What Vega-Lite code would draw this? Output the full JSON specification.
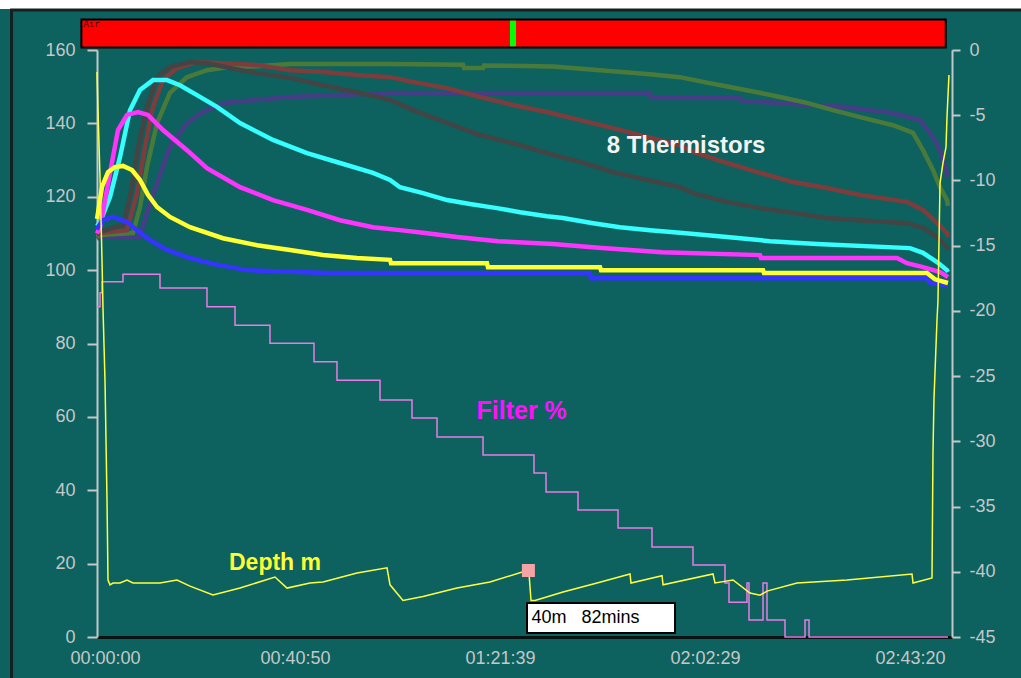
{
  "$schema": "https://vega.github.io/schema/vega-lite/v6.json",
  "width": 855,
  "height": 587,
  "autosize": {"type": "none"},
  "padding": {"left": 97, "top": 50, "right": 69, "bottom": 41},
  "background": "#0d615e",
  "config": {"view": {"stroke": null}, "font": "Liberation Sans"},
  "datasets": {
    "therm": [
      {"s":"T1","t":0,"v":108.5},{"s":"T1","t":0.58,"v":109.0},{"s":"T1","t":8.25,"v":109.0},{"s":"T1","t":9.60,"v":115.6},{"s":"T1","t":11.52,"v":123.7},{"s":"T1","t":14.01,"v":133.6},{"s":"T1","t":17.27,"v":140.1},{"s":"T1","t":20.34,"v":143.1},{"s":"T1","t":24.18,"v":145.5},{"s":"T1","t":30.71,"v":146.4},{"s":"T1","t":37.04,"v":147.2},{"s":"T1","t":56.24,"v":148.3},{"s":"T1","t":106.14,"v":148.3},{"s":"T1","t":106.33,"v":146.9},{"s":"T1","t":123.41,"v":146.9},{"s":"T1","t":123.99,"v":146.1},{"s":"T1","t":133.58,"v":145.3},{"s":"T1","t":143.18,"v":144.5},{"s":"T1","t":152.78,"v":142.8},{"s":"T1","t":157.96,"v":140.9},{"s":"T1","t":160.45,"v":136.3},{"s":"T1","t":161.80,"v":132.7},{"s":"T1","t":162.76,"v":128.1},{"s":"T1","t":163.33,"v":125.4},
      {"s":"T2","t":0,"v":109.0},{"s":"T2","t":0.58,"v":109.6},{"s":"T2","t":6.91,"v":110.1},{"s":"T2","t":8.25,"v":117.2},{"s":"T2","t":9.60,"v":128.1},{"s":"T2","t":11.52,"v":140.1},{"s":"T2","t":14.01,"v":148.3},{"s":"T2","t":17.27,"v":152.6},{"s":"T2","t":21.11,"v":154.5},{"s":"T2","t":25.53,"v":155.4},{"s":"T2","t":30.71,"v":155.6},{"s":"T2","t":37.04,"v":156.2},{"s":"T2","t":56.24,"v":156.2},{"s":"T2","t":70.25,"v":156.0},{"s":"T2","t":70.44,"v":155.1},{"s":"T2","t":74.09,"v":155.1},{"s":"T2","t":74.28,"v":155.8},{"s":"T2","t":87.52,"v":155.5},{"s":"T2","t":96.55,"v":154.5},{"s":"T2","t":106.14,"v":153.4},{"s":"T2","t":111.89,"v":152.6},{"s":"T2","t":116.31,"v":151.3},{"s":"T2","t":121.49,"v":149.9},{"s":"T2","t":126.67,"v":148.5},{"s":"T2","t":131.09,"v":147.2},{"s":"T2","t":136.27,"v":145.6},{"s":"T2","t":141.26,"v":143.6},{"s":"T2","t":146.44,"v":141.7},{"s":"T2","t":152.78,"v":139.5},{"s":"T2","t":156.62,"v":137.4},{"s":"T2","t":158.53,"v":132.7},{"s":"T2","t":160.45,"v":127.3},{"s":"T2","t":161.80,"v":122.6},{"s":"T2","t":163.14,"v":119.1},{"s":"T2","t":163.33,"v":117.5},
      {"s":"T3","t":0,"v":109.5},{"s":"T3","t":0.58,"v":110.1},{"s":"T3","t":5.76,"v":110.9},{"s":"T3","t":7.68,"v":121.0},{"s":"T3","t":9.21,"v":133.6},{"s":"T3","t":10.75,"v":144.5},{"s":"T3","t":12.67,"v":151.8},{"s":"T3","t":15.35,"v":155.1},{"s":"T3","t":19.19,"v":156.7},{"s":"T3","t":24.18,"v":156.4},{"s":"T3","t":30.71,"v":155.9},{"s":"T3","t":37.04,"v":154.5},{"s":"T3","t":43.38,"v":154.0},{"s":"T3","t":49.90,"v":153.2},{"s":"T3","t":56.24,"v":152.6},{"s":"T3","t":60.65,"v":151.3},{"s":"T3","t":67.18,"v":149.6},{"s":"T3","t":73.51,"v":147.2},{"s":"T3","t":79.84,"v":145.0},{"s":"T3","t":86.37,"v":143.1},{"s":"T3","t":92.70,"v":140.9},{"s":"T3","t":99.04,"v":138.7},{"s":"T3","t":105.56,"v":136.3},{"s":"T3","t":111.89,"v":134.0},{"s":"T3","t":114.39,"v":132.2},{"s":"T3","t":120.92,"v":129.2},{"s":"T3","t":127.25,"v":126.5},{"s":"T3","t":133.58,"v":124.0},{"s":"T3","t":140.11,"v":122.4},{"s":"T3","t":146.44,"v":120.5},{"s":"T3","t":155.46,"v":118.6},{"s":"T3","t":158.53,"v":116.4},{"s":"T3","t":161.22,"v":112.8},{"s":"T3","t":163.14,"v":110.1},{"s":"T3","t":163.33,"v":109.0},
      {"s":"T4","t":0,"v":110.0},{"s":"T4","t":0.58,"v":110.4},{"s":"T4","t":4.99,"v":112.3},{"s":"T4","t":6.33,"v":119.9},{"s":"T4","t":7.68,"v":131.9},{"s":"T4","t":9.60,"v":144.5},{"s":"T4","t":11.52,"v":152.6},{"s":"T4","t":14.01,"v":155.4},{"s":"T4","t":17.85,"v":156.7},{"s":"T4","t":21.11,"v":156.4},{"s":"T4","t":25.53,"v":155.1},{"s":"T4","t":30.71,"v":153.7},{"s":"T4","t":37.04,"v":152.4},{"s":"T4","t":43.38,"v":150.4},{"s":"T4","t":49.90,"v":148.5},{"s":"T4","t":56.24,"v":146.4},{"s":"T4","t":60.65,"v":143.6},{"s":"T4","t":67.18,"v":140.1},{"s":"T4","t":73.51,"v":136.8},{"s":"T4","t":79.84,"v":134.6},{"s":"T4","t":86.37,"v":131.9},{"s":"T4","t":92.70,"v":129.5},{"s":"T4","t":99.04,"v":126.7},{"s":"T4","t":105.56,"v":124.6},{"s":"T4","t":111.89,"v":122.6},{"s":"T4","t":114.39,"v":121.0},{"s":"T4","t":120.92,"v":118.6},{"s":"T4","t":127.25,"v":116.9},{"s":"T4","t":133.58,"v":115.6},{"s":"T4","t":140.11,"v":114.2},{"s":"T4","t":146.44,"v":113.6},{"s":"T4","t":155.46,"v":112.8},{"s":"T4","t":158.53,"v":111.5},{"s":"T4","t":161.22,"v":109.0},{"s":"T4","t":163.14,"v":106.3},{"s":"T4","t":163.33,"v":105.5},
      {"s":"T5","t":0,"v":112.0},{"s":"T5","t":0.58,"v":113.1},{"s":"T5","t":2.50,"v":119.9},{"s":"T5","t":4.41,"v":130.8},{"s":"T5","t":6.33,"v":143.6},{"s":"T5","t":8.25,"v":149.1},{"s":"T5","t":10.75,"v":151.8},{"s":"T5","t":13.43,"v":151.8},{"s":"T5","t":15.93,"v":150.4},{"s":"T5","t":19.19,"v":147.7},{"s":"T5","t":23.03,"v":144.5},{"s":"T5","t":27.45,"v":140.1},{"s":"T5","t":33.78,"v":135.5},{"s":"T5","t":40.31,"v":131.9},{"s":"T5","t":46.64,"v":129.2},{"s":"T5","t":52.97,"v":126.5},{"s":"T5","t":56.24,"v":124.6},{"s":"T5","t":58.15,"v":122.6},{"s":"T5","t":62.57,"v":121.0},{"s":"T5","t":67.18,"v":119.1},{"s":"T5","t":71.59,"v":118.0},{"s":"T5","t":76.77,"v":116.9},{"s":"T5","t":81.19,"v":115.8},{"s":"T5","t":86.37,"v":114.7},{"s":"T5","t":89.44,"v":114.2},{"s":"T5","t":95.20,"v":112.8},{"s":"T5","t":100.38,"v":111.7},{"s":"T5","t":106.14,"v":110.9},{"s":"T5","t":112.47,"v":110.1},{"s":"T5","t":120.92,"v":109.0},{"s":"T5","t":129.17,"v":107.9},{"s":"T5","t":138.19,"v":107.1},{"s":"T5","t":156.04,"v":106.0},{"s":"T5","t":158.53,"v":104.7},{"s":"T5","t":161.22,"v":102.2},{"s":"T5","t":163.14,"v":100.0},{"s":"T5","t":163.33,"v":99.5},
      {"s":"T6","t":0,"v":110.0},{"s":"T6","t":0.58,"v":111.7},{"s":"T6","t":2.50,"v":126.5},{"s":"T6","t":4.03,"v":138.2},{"s":"T6","t":5.76,"v":142.3},{"s":"T6","t":7.87,"v":143.1},{"s":"T6","t":9.79,"v":142.3},{"s":"T6","t":12.67,"v":138.2},{"s":"T6","t":17.27,"v":132.7},{"s":"T6","t":21.11,"v":127.8},{"s":"T6","t":27.45,"v":122.6},{"s":"T6","t":33.78,"v":119.1},{"s":"T6","t":40.31,"v":116.4},{"s":"T6","t":46.64,"v":113.6},{"s":"T6","t":52.97,"v":111.7},{"s":"T6","t":58.15,"v":110.9},{"s":"T6","t":62.95,"v":110.1},{"s":"T6","t":69.09,"v":109.0},{"s":"T6","t":76.96,"v":107.9},{"s":"T6","t":87.52,"v":107.1},{"s":"T6","t":96.92,"v":106.0},{"s":"T6","t":108.45,"v":104.9},{"s":"T6","t":127.25,"v":104.1},{"s":"T6","t":127.44,"v":103.3},{"s":"T6","t":153.54,"v":103.3},{"s":"T6","t":155.46,"v":101.9},{"s":"T6","t":158.53,"v":100.8},{"s":"T6","t":161.80,"v":99.5},{"s":"T6","t":163.33,"v":98.1},
      {"s":"T7","t":0,"v":111.0},{"s":"T7","t":0.19,"v":111.7},{"s":"T7","t":1.15,"v":113.6},{"s":"T7","t":3.07,"v":114.5},{"s":"T7","t":5.76,"v":113.1},{"s":"T7","t":7.68,"v":110.9},{"s":"T7","t":10.17,"v":108.2},{"s":"T7","t":13.43,"v":105.5},{"s":"T7","t":17.85,"v":103.3},{"s":"T7","t":22.26,"v":101.7},{"s":"T7","t":28.79,"v":100.0},{"s":"T7","t":44.14,"v":99.2},{"s":"T7","t":94.62,"v":99.2},{"s":"T7","t":94.81,"v":97.8},{"s":"T7","t":159.30,"v":97.8},{"s":"T7","t":159.88,"v":96.5},{"s":"T7","t":163.33,"v":95.9},
      {"s":"T8","t":0,"v":114.0},{"s":"T8","t":0.19,"v":115.6},{"s":"T8","t":0.96,"v":122.7},{"s":"T8","t":2.11,"v":126.7},{"s":"T8","t":3.45,"v":128.1},{"s":"T8","t":4.99,"v":128.4},{"s":"T8","t":6.72,"v":127.3},{"s":"T8","t":8.25,"v":124.6},{"s":"T8","t":9.79,"v":120.5},{"s":"T8","t":11.52,"v":117.2},{"s":"T8","t":14.01,"v":114.5},{"s":"T8","t":17.85,"v":111.7},{"s":"T8","t":24.18,"v":108.7},{"s":"T8","t":30.71,"v":106.8},{"s":"T8","t":37.04,"v":105.5},{"s":"T8","t":43.38,"v":104.1},{"s":"T8","t":49.90,"v":103.3},{"s":"T8","t":56.24,"v":102.8},{"s":"T8","t":56.43,"v":101.9},{"s":"T8","t":74.85,"v":101.9},{"s":"T8","t":75.04,"v":100.8},{"s":"T8","t":96.55,"v":100.8},{"s":"T8","t":96.73,"v":100.0},{"s":"T8","t":127.83,"v":100.0},{"s":"T8","t":128.02,"v":99.2},{"s":"T8","t":159.30,"v":99.2},{"s":"T8","t":160.84,"v":97.5},{"s":"T8","t":163.33,"v":96.5}
    ],
    "filter": [
      {"t":0,"pct":90.0},{"t":0.58,"pct":93.8},{"t":0.96,"pct":96.8},{"t":4.99,"pct":98.9},{"t":12.09,"pct":95.1},{"t":21.11,"pct":90.0},{"t":26.49,"pct":85.0},{"t":33.20,"pct":80.1},{"t":41.65,"pct":75.0},{"t":46.06,"pct":70.0},{"t":54.32,"pct":64.6},{"t":60.46,"pct":59.7},{"t":65.26,"pct":54.5},{"t":74.09,"pct":49.6},{"t":83.87,"pct":44.7},{"t":86.18,"pct":39.5},{"t":92.32,"pct":34.6},{"t":100.0,"pct":29.7},{"t":106.52,"pct":24.5},{"t":114.39,"pct":19.6},{"t":120.53,"pct":14.7},{"t":121.30,"pct":9.5},{"t":124.75,"pct":14.7},{"t":125.14,"pct":4.6},{"t":127.83,"pct":14.7},{"t":128.59,"pct":4.6},{"t":132.05,"pct":0},{"t":135.89,"pct":4.6},{"t":136.66,"pct":0},{"t":163.33,"pct":0}
    ],
    "depth": [
      {"t":0,"d":-1.69},{"t":0.19,"d":-4.6},{"t":0.58,"d":-9.81},{"t":0.96,"d":-16.1},{"t":1.15,"d":-19.78},{"t":1.54,"d":-25.45},{"t":1.92,"d":-34.5},{"t":2.11,"d":-40.63},{"t":2.50,"d":-41.0},{"t":3.07,"d":-40.86},{"t":4.41,"d":-40.86},{"t":5.76,"d":-40.63},{"t":6.91,"d":-40.86},{"t":12.09,"d":-40.86},{"t":15.35,"d":-40.63},{"t":17.85,"d":-41.1},{"t":22.26,"d":-41.78},{"t":27.45,"d":-41.25},{"t":34.16,"d":-40.4},{"t":36.47,"d":-41.25},{"t":40.88,"d":-40.86},{"t":43.38,"d":-40.79},{"t":49.90,"d":-40.1},{"t":55.66,"d":-39.7},{"t":56.24,"d":-41.0},{"t":58.73,"d":-42.2},{"t":62.57,"d":-41.9},{"t":69.09,"d":-41.25},{"t":75.43,"d":-40.79},{"t":81.76,"d":-40.0},{"t":82.91,"d":-40.1},{"t":83.30,"d":-42.2},{"t":84.07,"d":-42.2},{"t":89.44,"d":-41.55},{"t":95.97,"d":-40.86},{"t":102.30,"d":-40.17},{"t":102.49,"d":-40.86},{"t":108.45,"d":-40.3},{"t":108.64,"d":-41.0},{"t":118.23,"d":-40.17},{"t":118.61,"d":-40.86},{"t":122.07,"d":-40.63},{"t":125.33,"d":-41.63},{"t":127.25,"d":-41.8},{"t":128.59,"d":-41.48},{"t":134.35,"d":-40.86},{"t":143.95,"d":-40.63},{"t":156.42,"d":-40.17},{"t":156.62,"d":-40.86},{"t":160.26,"d":-40.48},{"t":160.45,"d":-30.9},{"t":160.64,"d":-26.8},{"t":161.22,"d":-20.7},{"t":161.41,"d":-19.2},{"t":161.80,"d":-10.2},{"t":162.37,"d":-8.66},{"t":162.95,"d":-7.44},{"t":163.14,"d":-5.14},{"t":163.52,"d":-1.92}
    ]
  },
  "layer": [
    {
      "layer": [
        {
          "data": {"values": [{}]},
          "mark": {"type": "rect", "fill": "#ffffff"},
          "encoding": {
            "x": {"datum": -25, "type": "quantitative", "scale": {"domain": [0, 164.1], "nice": false, "zero": false}},
            "x2": {"datum": 190},
            "y": {"datum": 171.2, "type": "quantitative", "scale": {"domain": [0, 160], "nice": false, "zero": false}},
            "y2": {"datum": 185}
          }
        },
        {
          "data": {"values": [{}]},
          "mark": {"type": "rect", "fill": null, "stroke": "#142020", "strokeWidth": 3},
          "encoding": {
            "x": {"datum": -16.4, "type": "quantitative", "scale": {"domain": [0, 164.1], "nice": false, "zero": false}},
            "x2": {"datum": 200},
            "y": {"datum": -30, "type": "quantitative", "scale": {"domain": [0, 160], "nice": false, "zero": false}},
            "y2": {"datum": 170.9}
          }
        },
        {
          "data": {"values": [{}]},
          "mark": {"type": "rect", "fill": "#ff0000", "stroke": "#000000", "strokeWidth": 2},
          "encoding": {
            "x": {"datum": -3.0, "type": "quantitative", "scale": {"domain": [0, 164.1], "nice": false, "zero": false}},
            "x2": {"datum": 162.9},
            "y": {"datum": 160.7, "type": "quantitative", "scale": {"domain": [0, 160], "nice": false, "zero": false}},
            "y2": {"datum": 168.3}
          }
        },
        {
          "data": {"values": [{}]},
          "mark": {"type": "rect", "fill": "#00ff00"},
          "encoding": {
            "x": {"datum": 79.27, "type": "quantitative", "scale": {"domain": [0, 164.1], "nice": false, "zero": false}},
            "x2": {"datum": 80.42},
            "y": {"datum": 161.0, "type": "quantitative", "scale": {"domain": [0, 160], "nice": false, "zero": false}},
            "y2": {"datum": 168.0}
          }
        },
        {
          "data": {"values": [{"label": "Air"}]},
          "mark": {"type": "text", "font": "DejaVu Sans Mono", "fontSize": 9, "color": "#500000", "align": "left", "baseline": "top"},
          "encoding": {
            "x": {"datum": -2.6, "type": "quantitative", "scale": {"domain": [0, 164.1], "nice": false, "zero": false}},
            "y": {"datum": 168.1, "type": "quantitative", "scale": {"domain": [0, 160], "nice": false, "zero": false}},
            "text": {"field": "label"}
          }
        },
        {
          "data": {"name": "therm"},
          "mark": {"type": "line", "strokeWidth": 4.5, "strokeJoin": "miter"},
          "encoding": {
            "x": {
              "field": "t", "type": "quantitative",
              "scale": {"domain": [0, 164.1], "nice": false, "zero": false},
              "axis": {
                "title": null,
                "values": [1.54, 38.0, 77.35, 116.7, 156.04],
                "labelExpr": "datum.value < 10 ? '00:00:00' : datum.value < 50 ? '00:40:50' : datum.value < 90 ? '01:21:39' : datum.value < 130 ? '02:02:29' : '02:43:20'",
                "ticks": false, "grid": false,
                "domainColor": "#0a1212", "domainWidth": 3,
                "labelColor": "#c4c8c8", "labelFontSize": 18, "labelFont": "Liberation Sans",
                "labelPadding": 12, "labelFlush": false, "labelOverlap": false
              }
            },
            "y": {
              "field": "v", "type": "quantitative",
              "scale": {"domain": [0, 160], "nice": false, "zero": false},
              "axis": {
                "title": null,
                "values": [0, 20, 40, 60, 80, 100, 120, 140, 160],
                "grid": false,
                "domainColor": "#c4c8c8", "domainWidth": 2,
                "tickColor": "#c4c8c8", "tickWidth": 2, "tickSize": 10,
                "labelColor": "#c4c8c8", "labelFontSize": 18, "labelFont": "Liberation Sans",
                "labelPadding": 12
              }
            },
            "color": {
              "field": "s", "type": "nominal", "legend": null,
              "scale": {
                "domain": ["T1", "T2", "T3", "T4", "T5", "T6", "T7", "T8"],
                "range": ["#453d85", "#4a7a3a", "#7d3d3d", "#444444", "#35ffff", "#ff35ff", "#3535ff", "#ffff33"]
              }
            },
            "order": {"field": "t", "type": "quantitative"}
          }
        },
        {
          "data": {"name": "filter"},
          "mark": {"type": "line", "interpolate": "step-after", "color": "#e47ee4", "strokeWidth": 1.5},
          "encoding": {
            "x": {"field": "t", "type": "quantitative", "scale": {"domain": [0, 164.1], "nice": false, "zero": false}},
            "y": {"field": "pct", "type": "quantitative", "scale": {"domain": [0, 160], "nice": false, "zero": false}}
          }
        },
        {
          "data": {"values": [{"t": 113.05, "v": 133.8, "label": "8 Thermistors"}]},
          "mark": {"type": "text", "font": "Liberation Sans", "fontWeight": "bold", "fontSize": 24, "color": "#f4f4f4", "align": "center", "baseline": "middle"},
          "encoding": {
            "x": {"field": "t", "type": "quantitative", "scale": {"domain": [0, 164.1], "nice": false, "zero": false}},
            "y": {"field": "v", "type": "quantitative", "scale": {"domain": [0, 160], "nice": false, "zero": false}},
            "text": {"field": "label"}
          }
        },
        {
          "data": {"values": [{"t": 81.5, "v": 61.6, "label": "Filter %"}]},
          "mark": {"type": "text", "font": "Liberation Sans", "fontWeight": "bold", "fontSize": 25, "color": "#ff10ff", "align": "center", "baseline": "middle"},
          "encoding": {
            "x": {"field": "t", "type": "quantitative", "scale": {"domain": [0, 164.1], "nice": false, "zero": false}},
            "y": {"field": "v", "type": "quantitative", "scale": {"domain": [0, 160], "nice": false, "zero": false}},
            "text": {"field": "label"}
          }
        },
        {
          "data": {"values": [{"t": 34.16, "v": 20.2, "label": "Depth m"}]},
          "mark": {"type": "text", "font": "Liberation Sans", "fontWeight": "bold", "fontSize": 23, "color": "#ffff33", "align": "center", "baseline": "middle"},
          "encoding": {
            "x": {"field": "t", "type": "quantitative", "scale": {"domain": [0, 164.1], "nice": false, "zero": false}},
            "y": {"field": "v", "type": "quantitative", "scale": {"domain": [0, 160], "nice": false, "zero": false}},
            "text": {"field": "label"}
          }
        }
      ]
    },
    {
      "layer": [
        {
          "data": {"name": "depth"},
          "mark": {"type": "line", "color": "#ffff40", "strokeWidth": 1.5},
          "encoding": {
            "x": {"field": "t", "type": "quantitative", "scale": {"domain": [0, 164.1], "nice": false, "zero": false}},
            "y": {
              "field": "d", "type": "quantitative",
              "scale": {"domain": [-45, 0], "nice": false, "zero": false},
              "axis": {
                "title": null, "orient": "right",
                "values": [0, -5, -10, -15, -20, -25, -30, -35, -40, -45],
                "labelExpr": "'' + datum.value",
                "grid": false,
                "domainColor": "#c4c8c8", "domainWidth": 2,
                "tickColor": "#c4c8c8", "tickWidth": 2, "tickSize": 8,
                "labelColor": "#c4c8c8", "labelFontSize": 18, "labelFont": "Liberation Sans",
                "labelPadding": 9
              }
            },
            "order": {"field": "t", "type": "quantitative"}
          }
        },
        {
          "data": {"values": [{"t": 82.8, "d": -39.9}]},
          "mark": {"type": "point", "shape": "square", "filled": true, "size": 169, "color": "#f4a4a4", "opacity": 1},
          "encoding": {
            "x": {"field": "t", "type": "quantitative", "scale": {"domain": [0, 164.1], "nice": false, "zero": false}},
            "y": {"field": "d", "type": "quantitative", "scale": {"domain": [-45, 0], "nice": false, "zero": false}}
          }
        },
        {
          "data": {"values": [{}]},
          "mark": {"type": "rect", "fill": "#ffffff", "stroke": "#000000", "strokeWidth": 2},
          "encoding": {
            "x": {"datum": 82.53, "type": "quantitative", "scale": {"domain": [0, 164.1], "nice": false, "zero": false}},
            "x2": {"datum": 110.94},
            "y": {"datum": -44.7, "type": "quantitative", "scale": {"domain": [-45, 0], "nice": false, "zero": false}},
            "y2": {"datum": -42.4}
          }
        },
        {
          "data": {"values": [{"t": 83.4, "d": -43.55, "label": "40m\u00a0\u00a0\u00a082mins"}]},
          "mark": {"type": "text", "font": "Liberation Sans", "fontSize": 18, "color": "#000000", "align": "left", "baseline": "middle"},
          "encoding": {
            "x": {"field": "t", "type": "quantitative", "scale": {"domain": [0, 164.1], "nice": false, "zero": false}},
            "y": {"field": "d", "type": "quantitative", "scale": {"domain": [-45, 0], "nice": false, "zero": false}},
            "text": {"field": "label"}
          }
        }
      ]
    }
  ],
  "resolve": {"scale": {"y": "independent"}}
}
